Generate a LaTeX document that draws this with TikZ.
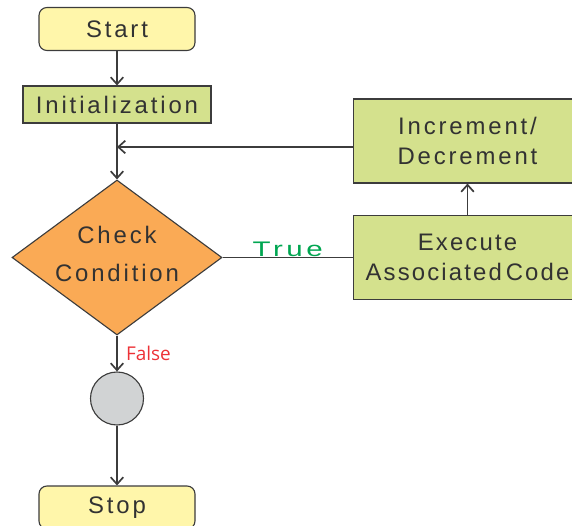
\documentclass[tikz,border=0pt]{standalone}
\usepackage{fontspec}
\usepackage{xcolor}
\usepackage{tikz}
\usetikzlibrary{positioning,shapes.geometric,arrows.meta}
\setmainfont{Liberation Sans}
\newfontfamily\boxfont{Liberation Sans}[LetterSpace=12]
\newfontfamily\execfont{Liberation Sans}[LetterSpace=9]
\newfontfamily\falsefont{Open Sans}

\definecolor{lineg}{RGB}{60,60,60}
\definecolor{textg}{RGB}{50,50,50}
\definecolor{termy}{RGB}{255,246,170}
\definecolor{procg}{RGB}{212,225,141}
\definecolor{condo}{RGB}{250,170,85}
\definecolor{joing}{RGB}{209,211,212}
\definecolor{trueg}{RGB}{0,166,81}
\definecolor{falser}{RGB}{237,50,55}

\begin{document}
\begin{tikzpicture}[
  box/.style={draw=lineg, line width=0.8pt, text=textg, align=center,
    font=\boxfont\fontsize{17}{21.3}\selectfont},
  term/.style={box, fill=termy, rounded corners=0.2cm,
    minimum width=3.9cm, minimum height=1.075cm},
  proc/.style={box, fill=procg, minimum width=5.7cm, minimum height=2.1cm},
  arr/.style={draw=lineg, line width=0.8pt,
    -{Straight Barb[length=5pt,width=9pt,line width=1.2pt]}},
  line/.style={draw=lineg, line width=0.8pt}
]
\useasboundingbox (0,0) rectangle (14.3,13.125);
\clip (0,0) rectangle (14.3,13.125);

\node [term] (start) at (2.925,12.4) {Start};
\node [box, fill=procg, minimum width=4.7cm, minimum height=0.925cm] (init) at (2.925,10.5125) {Initialization};
\coordinate (merge) at (2.925,9.45);
\node [box, diamond, fill=condo, inner sep=0pt, aspect=1.355, text depth=0.2cm,
  minimum width=5.25cm, minimum height=3.875cm,
  font=\boxfont\fontsize{17}{26.8}\selectfont] (cond) at (2.925,6.6875) {Check\\Condition};
\node [proc] (inc) at (11.6875,9.6) {Increment/\\Decrement};
\node [proc, font=\execfont\fontsize{17}{21.3}\selectfont] (exec) at (11.6875,6.6875) {Execute\\Associated\,Code};
\node [box, circle, fill=joing, minimum size=1.325cm] (join) at (2.925,3.1625) {};
\node [term] (stop) at (2.925,0.4375) {Stop};

\draw [arr] (start) -- (init);
\draw [arr] (init) -- (cond);
\draw [arr] (inc.west |- merge) -- (merge);
\draw [line] (cond) -- node [above, inner sep=0.5pt, text=trueg,
  font=\boxfont\fontsize{15}{18}\selectfont] {\scalebox{1.4}[1]{True}} (exec);
\draw [arr] (exec) -- (inc);
\draw [arr] (cond) -- node [right, inner sep=6pt, text=falser,
  font=\falsefont\fontsize{13.5}{16}\selectfont] {False} (join);
\draw [arr] (join) -- (stop);

\end{tikzpicture}
\end{document}
